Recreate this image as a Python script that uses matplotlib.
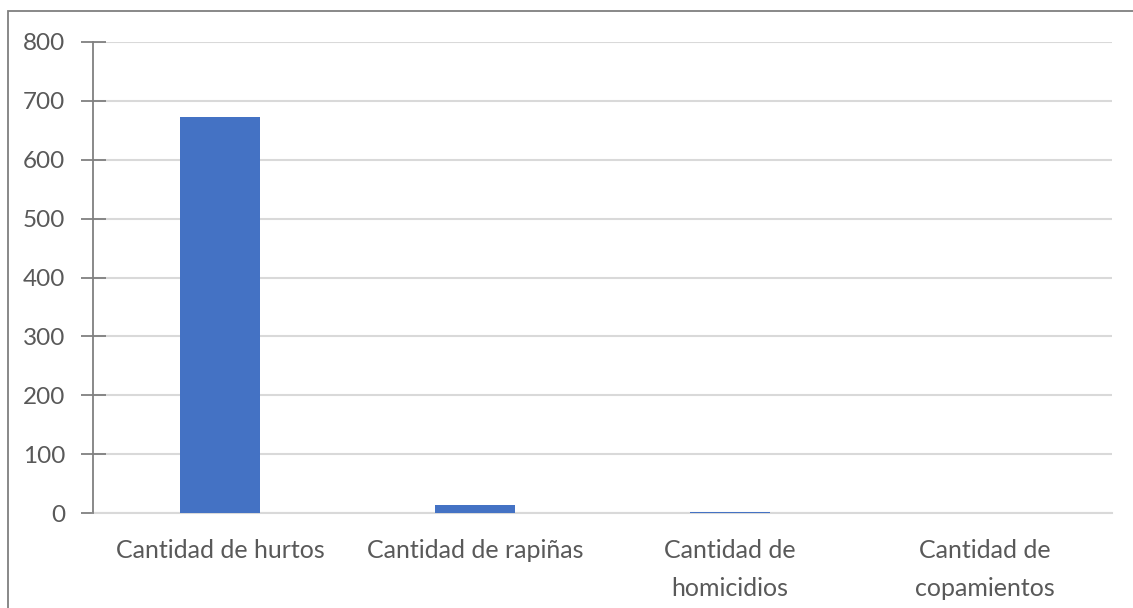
import matplotlib
matplotlib.use("Agg")
import matplotlib.pyplot as plt
from matplotlib.patches import Rectangle

categories = ["Cantidad de hurtos", "Cantidad de rapiñas", "Cantidad de\nhomicidios", "Cantidad de\ncopamientos"]
values = [672, 14, 1, 0]
yticks = [0, 100, 200, 300, 400, 500, 600, 700, 800]

W, H = 1133, 608
fig = plt.figure(figsize=(W / 100, H / 100), dpi=100)
plt.rcParams['font.family'] = ['Lato', 'DejaVu Sans']

left, right = 93 / W, 1112 / W
bottom, top = 1 - 513 / H, 1 - 42 / H
ax = fig.add_axes([left, bottom, right - left, top - bottom])

x = range(len(categories))
ax.bar(x, values, width=0.314, color="#4472C4", zorder=3)
ax.set_xlim(-0.5, len(categories) - 0.5)
ax.set_ylim(0, 800)
ax.set_yticks(yticks)
ax.set_xticks(list(x))
ax.set_xticklabels(categories, fontsize=18, color="#595959", linespacing=1.78)
ax.tick_params(axis='x', length=0, pad=19)
ax.tick_params(axis='y', direction='inout', length=18, width=1.3, color="#808080",
               labelsize=17.5, labelcolor="#595959", pad=11)
ax.yaxis.grid(True, color="#d9d9d9", linewidth=1.5, zorder=0)
for s in ["top", "right"]:
    ax.spines[s].set_visible(False)
ax.spines["bottom"].set_color("#d9d9d9")
ax.spines["bottom"].set_linewidth(1.5)
ax.spines["left"].set_color("#808080")
ax.spines["left"].set_linewidth(1.3)
ax.spines["left"].set_zorder(4)

rect = Rectangle((8 / W, -0.1), 1.2, 1 - 11 / H + 0.1, transform=fig.transFigure,
                 fill=False, edgecolor="#7f7f7f", linewidth=1.3, clip_on=False)
fig.patches.append(rect)

fig.savefig("out.png", dpi=100)
